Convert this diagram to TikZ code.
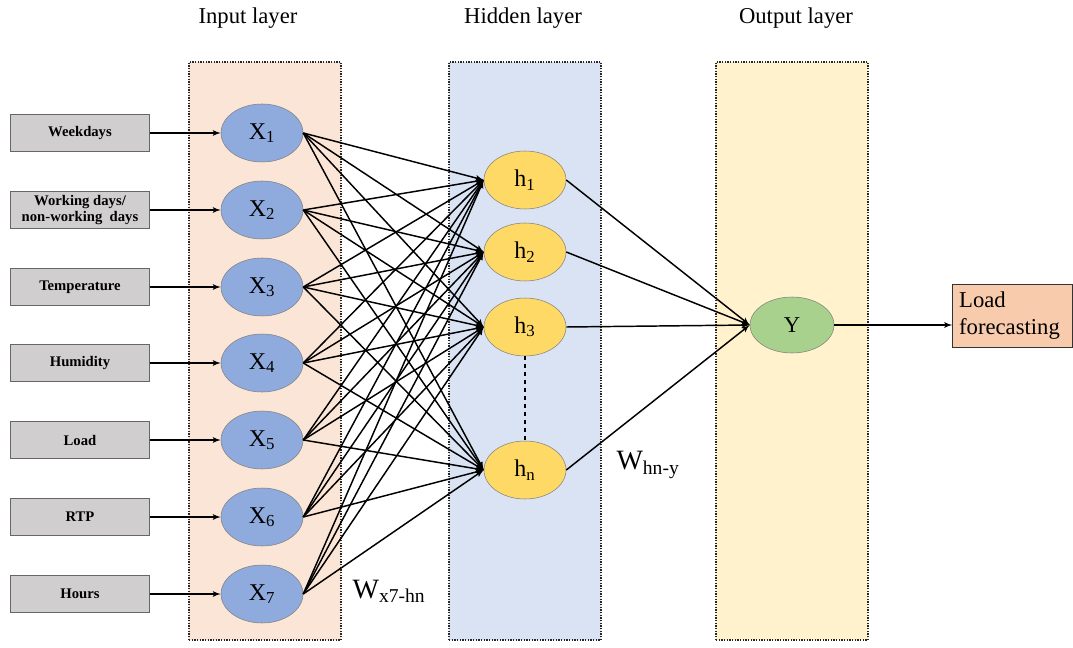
\documentclass[tikz,border=0pt]{standalone}
\usepackage{fontspec}
\setmainfont{Liberation Serif}
\usepackage{tikz}
\usetikzlibrary{arrows,shapes.geometric}
\definecolor{inbg}{HTML}{FBE5D6}
\definecolor{hidbg}{HTML}{DAE3F3}
\definecolor{outbg}{HTML}{FFF2CC}
\definecolor{featgray}{HTML}{D0CECE}
\definecolor{xblue}{HTML}{8FAADC}
\definecolor{hyellow}{HTML}{FFD966}
\definecolor{ygreen}{HTML}{A9D18E}
\definecolor{resbg}{HTML}{F8CBAD}

\begin{document}
\begin{tikzpicture}
		[x=0.75pt,y=-0.75pt,auto=center,
		panel/.style={draw=black!85,densely dotted,line width=1pt,minimum width=114pt,minimum height=433.5pt,inner sep=0pt},
		title/.style={font=\fontsize{17}{20}\selectfont},
		feature/.style={draw=black!60,fill=featgray,minimum width=104pt,minimum height=27.5pt,inner sep=0pt,align=center,font=\fontsize{11}{12}\selectfont\bfseries},
		neuron/.style={ellipse,draw=black!50,minimum width=61.5pt,minimum height=43.5pt,inner sep=0pt,font=\fontsize{18}{20}\selectfont},
		edge/.style={->,> = latex',line width=1.1pt}]
		\useasboundingbox (0,0) rectangle (1073,648);
		% layer panels
		\node[panel,fill=inbg] (pin) at (265,351) {};
		\node[panel,fill=hidbg] (phid) at (525,351) {};
		\node[panel,fill=outbg] (pout) at (792,351) {};
		\node[title] (tin) at (248,18) {Input layer};
		\node[title] (thid) at (523,18) {Hidden layer};
		\node[title] (tout) at (796,18) {Output layer};
		
		% inputs
		\foreach \i/\y/\t in {1/133/Weekdays,2/210/{Working days/\\non-working\ \ days},3/287/Temperature,4/363/Humidity,5/440/Load,6/517/RTP,7/594/Hours}
		{
		\node[feature] (f\i) at (80,\y) {\t};
		\node[neuron,fill=xblue] (x\i) at (262,\y) {X\textsubscript{\i}};
		\draw[edge] (f\i) -- (x\i);
		}
		
		% hidden
		\foreach \j/\y in {1/180,2/252,3/327}
		\node[neuron,fill=hyellow] (h\j) at (525,\y) {h\textsubscript{\j}};
		\node[neuron,fill=hyellow] (hn) at (525,470) {h\textsubscript{n}};
		\draw[dashed,line width=1.1pt] (h3) -- (hn);
		
		% output
		\node[neuron,fill=ygreen,minimum width=63pt,minimum height=42pt,font=\fontsize{17}{20}\selectfont] (y) at (792,325) {Y};
		\node[draw=black!80,fill=resbg,minimum width=90pt,minimum height=47pt,text width=80pt,inner xsep=5pt,align=left,font=\fontsize{17}{20}\selectfont] (res) at (1012.5,315.5) {Load\\forecasting};
		\node[font=\fontsize{21}{22}\selectfont] (wx) at (389,591) {W\textsubscript{x7-hn}};
		\node[font=\fontsize{21}{22}\selectfont] (wh) at (648,465) {W\textsubscript{hn-y}};
		
		\foreach \i in {1,...,7}
		\foreach \j in {1,2,3,n}
		\draw[edge] (x\i.east) -- (h\j.west);
		\foreach \j in {1,2,3,n}
		\draw[edge] (h\j.east) -- (y.west);
		\draw[edge] (y.east) -- (y.east -| res.west);
		\end{tikzpicture}
\end{document}
